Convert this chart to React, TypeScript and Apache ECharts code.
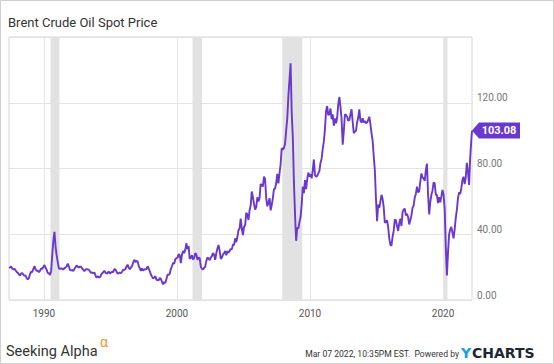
import React, { useEffect, useRef } from "react";
import * as echarts from "echarts";

const firstYear = 1987;
const firstMonth = 5;
// Monthly Brent spot prices (USD/bbl), starting May 1987
const monthlyPrices: number[] = [
  // 1987 May-Dec
  19.5, 19.8, 20.5, 19.0, 18.5, 19.0, 18.0, 17.0,
  // 1988
  16.5, 15.5, 14.8, 16.2, 16.4, 15.3, 14.8, 14.9, 13.2, 12.6, 13.4, 15.8,
  // 1989
  17.2, 17.0, 19.0, 20.6, 18.5, 17.8, 17.9, 16.9, 17.8, 19.3, 18.8, 20.2,
  // 1990
  21.2, 19.7, 18.3, 16.4, 16.3, 15.2, 17.5, 27.5, 36.0, 41.5, 32.5, 27.0,
  // 1991
  23.0, 19.3, 19.0, 19.2, 19.0, 18.5, 19.4, 19.8, 20.5, 22.2, 20.5, 18.3,
  // 1992
  18.0, 18.2, 17.6, 18.9, 20.0, 21.0, 20.3, 19.8, 20.3, 20.2, 19.2, 18.3,
  // 1993
  17.5, 18.5, 18.8, 18.6, 18.4, 17.5, 16.5, 16.8, 16.2, 16.8, 15.0, 13.5,
  // 1994
  14.5, 13.8, 13.8, 15.2, 16.3, 16.9, 17.8, 16.7, 16.0, 16.5, 17.4, 16.0,
  // 1995
  16.7, 17.2, 17.0, 18.8, 18.6, 17.3, 16.0, 16.3, 16.6, 16.3, 17.2, 18.5,
  // 1996
  18.3, 18.8, 20.5, 21.5, 19.5, 18.8, 19.8, 20.6, 22.8, 24.5, 23.0, 23.8,
  // 1997
  23.5, 20.8, 19.3, 17.8, 19.2, 17.9, 18.6, 18.7, 18.8, 20.5, 19.2, 17.5,
  // 1998
  15.5, 14.2, 13.0, 13.6, 14.5, 12.3, 12.2, 12.0, 13.5, 12.8, 11.0, 9.6,
  // 1999
  11.0, 10.3, 12.8, 15.4, 15.4, 16.0, 19.0, 20.5, 22.7, 22.0, 24.8, 25.5,
  // 2000
  25.8, 27.8, 27.2, 22.5, 27.5, 29.8, 28.5, 30.5, 34.5, 31.0, 32.8, 25.0,
  // 2001
  25.7, 27.3, 24.6, 25.6, 28.5, 27.8, 24.5, 25.8, 25.5, 20.5, 18.9, 18.6,
  // 2002
  19.5, 20.3, 23.8, 25.8, 25.4, 24.2, 25.8, 26.7, 28.5, 27.5, 24.4, 28.5,
  // 2003
  31.3, 33.5, 30.0, 25.0, 25.8, 27.6, 28.5, 29.8, 27.2, 29.7, 28.8, 29.8,
  // 2004
  31.2, 30.8, 33.8, 33.4, 37.5, 35.2, 38.3, 42.5, 43.5, 49.5, 43.5, 39.5,
  // 2005
  44.5, 45.5, 53.0, 52.0, 48.7, 54.5, 57.5, 66.0, 62.5, 58.5, 55.0, 56.5,
  // 2006
  62.5, 60.0, 62.0, 70.5, 70.0, 69.0, 75.0, 73.5, 62.0, 57.0, 59.0, 62.0,
  // 2007
  54.5, 57.8, 62.0, 67.5, 67.8, 71.0, 76.8, 71.0, 77.0, 82.5, 92.5, 91.5,
  // 2008
  92.5, 95.0, 103.0, 110.5, 124.0, 134.0, 144.0, 114.0, 99.0, 72.0, 52.0, 36.0,
  // 2009
  44.0, 43.5, 47.5, 50.5, 58.0, 69.0, 65.0, 73.0, 67.5, 73.5, 77.5, 75.0,
  // 2010
  76.5, 74.0, 79.0, 85.5, 76.0, 75.0, 75.5, 77.0, 78.5, 83.5, 86.0, 92.0,
  // 2011
  96.5, 104.0, 115.0, 118.0, 112.5, 113.0, 116.5, 110.0, 113.0, 106.0, 110.5, 107.5,
  // 2012
  111.0, 119.0, 123.5, 117.5, 110.0, 94.5, 102.5, 113.0, 112.5, 111.5, 109.0, 109.5,
  // 2013
  113.0, 116.0, 108.5, 101.5, 102.5, 103.0, 108.0, 111.0, 116.0, 109.0, 108.0, 110.5,
  // 2014
  108.0, 109.0, 107.5, 108.0, 109.5, 111.5, 107.0, 101.5, 97.0, 87.5, 79.0, 62.0,
  // 2015
  48.0, 58.0, 56.0, 60.0, 64.0, 61.5, 56.5, 47.0, 47.5, 48.5, 44.5, 37.5,
  // 2016
  33.5, 33.0, 38.5, 42.0, 49.0, 48.5, 45.0, 42.0, 46.5, 49.5, 45.0, 53.5,
  // 2017
  55.0, 55.5, 51.5, 52.5, 50.5, 46.0, 48.5, 51.5, 56.0, 57.5, 62.5, 64.5,
  // 2018
  69.0, 65.5, 66.0, 72.0, 77.0, 74.5, 74.0, 72.5, 79.0, 83.0, 64.5, 52.0,
  // 2019
  59.5, 64.0, 66.5, 71.5, 71.0, 64.0, 64.0, 59.0, 62.5, 59.5, 63.0, 67.0,
  // 2020
  64.0, 55.5, 32.0, 15.0, 29.0, 40.0, 43.0, 44.5, 41.0, 37.5, 43.0, 50.0,
  // 2021
  55.0, 62.0, 65.5, 64.5, 68.0, 73.0, 75.0, 70.5, 74.5, 83.5, 78.0, 70.0,
  // 2022 Jan-Feb
  86.5, 97.0,
];
const lastDate = "2022-03-07";
const lastPrice = 103.08;
const recessions: [number, number][] = [
  [1990.5, 1991.17],
  [2001.17, 2001.88],
  [2007.92, 2009.42],
  [2020.08, 2020.33],
];
const yearTicks = [1990, 2000, 2010, 2020];
const priceMin = 0;
const priceMax = 160;
const priceStep = 40;

const PURPLE = "#6a38cc";

function decimalYear(dateStr: string): number {
  const [y, m, d] = dateStr.split("-").map(Number);
  const start = Date.UTC(y, 0, 1);
  const end = Date.UTC(y + 1, 0, 1);
  return y + (Date.UTC(y, m - 1, d) - start) / (end - start);
}

export default function App() {
  const ref = useRef<HTMLDivElement>(null);
  useEffect(() => {
    if (!ref.current) return;
    const chart = echarts.init(ref.current, undefined, { renderer: "svg" });

    const seriesData: [number, number][] = monthlyPrices.map((v, i) => {
      const k = firstMonth - 1 + i;
      const yr = firstYear + Math.floor(k / 12);
      const mo = k % 12;
      return [yr + (mo + 0.5) / 12, v];
    });
    const lastX = decimalYear(lastDate);
    seriesData.push([lastX, lastPrice]);
    const xMin = seriesData[0][0];

    chart.setOption({
      animation: false,
      grid: {
        left: 9,
        right: 82,
        top: 37,
        bottom: 64,
        show: true,
        borderColor: "#d6d6d6",
        borderWidth: 1,
        backgroundColor: "transparent",
      },
      xAxis: {
        type: "value",
        min: xMin,
        max: lastX,
        axisLine: { show: false },
        axisTick: { show: false, customValues: yearTicks },
        axisLabel: {
          customValues: yearTicks,
          formatter: (v: number) => String(Math.round(v)),
          color: "#555",
          fontSize: 10,
          fontFamily: "Roboto",
          margin: 8,
        },
        splitLine: { show: true, lineStyle: { color: "#e6e6e6", width: 1 } },
      },
      yAxis: {
        type: "value",
        position: "right",
        min: priceMin,
        max: priceMax,
        interval: priceStep,
        axisLine: { show: false },
        axisTick: { show: false },
        axisLabel: {
          formatter: (v: number) => (v >= priceMax ? "" : v.toFixed(2)),
          color: "#777",
          fontSize: 10,
          fontFamily: "Roboto",
          verticalAlign: "bottom",
          margin: 5,
        },
        splitLine: { show: true, lineStyle: { color: "#e3e3e3", width: 1 } },
      },
      series: [
        {
          type: "line",
          data: [],
          z: 1,
          silent: true,
          markArea: {
            silent: true,
            itemStyle: { color: "#e2e2e2" },
            data: recessions.map(([a, b]) => [{ xAxis: a }, { xAxis: b }]),
          },
        },
        {
          type: "line",
          z: 3,
          data: seriesData,
          showSymbol: false,
          symbol: "none",
          clip: false,
          lineStyle: { color: PURPLE, width: 1.9 },
          markPoint: {
            silent: true,
            symbol: "path://M0,8L7,0L48,0L48,16L7,16Z",
            symbolSize: [48, 16],
            symbolOffset: [24, 0],
            itemStyle: { color: PURPLE },
            label: {
              show: true,
              position: "inside",
              offset: [3, 0],
              color: "#fff",
              fontWeight: "bold",
              fontSize: 11,
              fontFamily: "Roboto",
              formatter: (p: any) => Number(p.value).toFixed(2),
            },
            data: [{ coord: [lastX, lastPrice], value: lastPrice }],
          },
        },
      ],
      graphic: [
        {
          type: "rect",
          shape: { x: 0.5, y: 0.5, width: 553, height: 363 },
          style: { fill: "none", stroke: "#cfcfcf", lineWidth: 1 },
          silent: true,
        },
        {
          type: "text",
          left: 8,
          top: 16,
          style: {
            text: "Brent Crude Oil Spot Price",
            fill: "#333",
            fontSize: 13,
            fontFamily: "'Liberation Sans Narrow', Roboto",
          },
        },
        {
          type: "text",
          left: 6,
          top: 344,
          style: {
            text: "Seeking Alpha",
            fill: "#333",
            fontSize: 14.5,
            fontFamily: "Roboto",
          },
        },
        {
          type: "text",
          left: 100,
          top: 335,
          style: {
            text: "\u03b1",
            fill: "#f7931e",
            fontSize: 14,
            fontFamily: "Roboto",
          },
        },
        {
          type: "text",
          right: 95,
          top: 349,
          style: {
            text: "Mar 07 2022, 10:35PM EST.  Powered by",
            fill: "#333",
            fontSize: 8.6,
            fontFamily: "'Liberation Sans Narrow', Roboto",
          },
        },
        {
          type: "text",
          left: 461,
          top: 346,
          style: {
            text: "Y",
            fill: "#1a9bf0",
            fontSize: 14,
            fontWeight: "bold",
            fontFamily: "'DejaVu Sans'",
          },
        },
        {
          type: "text",
          left: 472,
          top: 346,
          style: {
            text: "CHARTS",
            fill: "#1c2733",
            fontSize: 14,
            fontWeight: "bold",
            fontFamily: "'DejaVu Sans'",
          },
        },
      ],
    });
    return () => chart.dispose();
  }, []);
  return (
    <div
      ref={ref}
      style={{ position: "fixed", left: 0, top: 0, width: 554, height: 364, background: "#fff" }}
    />
  );
}
